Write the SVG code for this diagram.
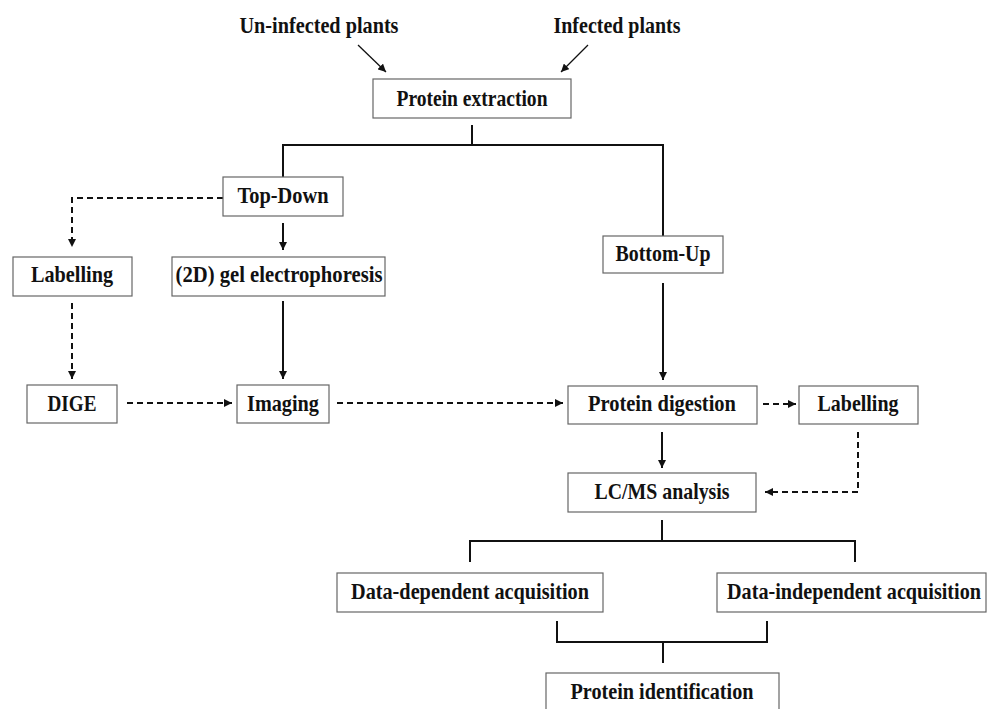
<svg xmlns="http://www.w3.org/2000/svg" width="987" height="709" viewBox="0 0 987 709">
<style>
.box{fill:#fff;stroke:#666;stroke-width:1.2}
.t{font-family:"Liberation Serif","Times New Roman",serif;font-weight:bold;font-size:23.5px;fill:#111;text-anchor:middle}
.c{fill:none;stroke:#111;stroke-width:2}
.d{stroke-dasharray:6 4}
.thin{stroke-width:1.3}
</style>
<defs>
<marker id="ah" markerUnits="userSpaceOnUse" markerWidth="9" markerHeight="8" refX="8" refY="4" orient="auto">
<path d="M0,0 L8,4 L0,8 Z" fill="#111"/>
</marker>
</defs>
<rect width="987" height="709" fill="#fff"/>
<g id="connectors">
<path class="c thin" d="M358,45 L386,72" marker-end="url(#ah)"/>
<path class="c thin" d="M588,45 L561,72" marker-end="url(#ah)"/>
<path class="c" d="M472,125 V145"/>
<path class="c" d="M283,177 V145 H663 V236"/>
<path class="c d" d="M223,198 H72 V247" marker-end="url(#ah)"/>
<path class="c" d="M283,223 V250" marker-end="url(#ah)"/>
<path class="c d" d="M72,303 V379" marker-end="url(#ah)"/>
<path class="c" d="M283,301 V379" marker-end="url(#ah)"/>
<path class="c d" d="M127,403 H232" marker-end="url(#ah)"/>
<path class="c d" d="M337,403 H563" marker-end="url(#ah)"/>
<path class="c" d="M663,283 V380" marker-end="url(#ah)"/>
<path class="c d" d="M763,404 H796" marker-end="url(#ah)"/>
<path class="c" d="M662,432 V468" marker-end="url(#ah)"/>
<path class="c d" d="M858,432 V492 H765" marker-end="url(#ah)"/>
<path class="c" d="M662,520 V541"/>
<path class="c" d="M470,562 V541 H855 V562"/>
<path class="c" d="M557,621 V642 H767 V621"/>
<path class="c" d="M663,642 V663"/>
</g>
<g id="uninfected"><text class="t" x="319" y="33" textLength="159" lengthAdjust="spacingAndGlyphs">Un-infected plants</text></g>
<g id="infected"><text class="t" x="617" y="33" textLength="127" lengthAdjust="spacingAndGlyphs">Infected plants</text></g>
<g id="extraction"><rect class="box" x="373" y="79" width="198" height="39"/><text class="t" x="472" y="106" textLength="151" lengthAdjust="spacingAndGlyphs">Protein extraction</text></g>
<g id="topdown"><rect class="box" x="223" y="177" width="120" height="39"/><text class="t" x="283" y="203" textLength="91" lengthAdjust="spacingAndGlyphs">Top-Down</text></g>
<g id="labelling1"><rect class="box" x="13" y="257" width="119" height="39"/><text class="t" x="72" y="282" textLength="82" lengthAdjust="spacingAndGlyphs">Labelling</text></g>
<g id="gel"><rect class="box" x="172" y="257" width="213" height="39"/><text class="t" x="279" y="282" textLength="207" lengthAdjust="spacingAndGlyphs">(2D) gel electrophoresis</text></g>
<g id="bottomup"><rect class="box" x="603" y="236" width="120" height="37"/><text class="t" x="663" y="261" textLength="95" lengthAdjust="spacingAndGlyphs">Bottom-Up</text></g>
<g id="dige"><rect class="box" x="27" y="385" width="90" height="38"/><text class="t" x="72" y="411" textLength="49" lengthAdjust="spacingAndGlyphs">DIGE</text></g>
<g id="imaging"><rect class="box" x="237" y="385" width="92" height="38"/><text class="t" x="283" y="411" textLength="72" lengthAdjust="spacingAndGlyphs">Imaging</text></g>
<g id="digestion"><rect class="box" x="568" y="386" width="189" height="38"/><text class="t" x="662" y="411" textLength="148" lengthAdjust="spacingAndGlyphs">Protein digestion</text></g>
<g id="labelling2"><rect class="box" x="799" y="386" width="119" height="38"/><text class="t" x="858" y="411" textLength="81" lengthAdjust="spacingAndGlyphs">Labelling</text></g>
<g id="lcms"><rect class="box" x="568" y="473" width="188" height="39"/><text class="t" x="662" y="499" textLength="135" lengthAdjust="spacingAndGlyphs">LC/MS analysis</text></g>
<g id="dda"><rect class="box" x="337" y="573" width="266" height="39"/><text class="t" x="470" y="599" textLength="238" lengthAdjust="spacingAndGlyphs">Data-dependent acquisition</text></g>
<g id="dia"><rect class="box" x="717" y="573" width="269" height="39"/><text class="t" x="854" y="599" textLength="254" lengthAdjust="spacingAndGlyphs">Data-independent acquisition</text></g>
<g id="identification"><rect class="box" x="546" y="673" width="233" height="45"/><text class="t" x="662" y="699" textLength="183" lengthAdjust="spacingAndGlyphs">Protein identification</text></g>
</svg>
